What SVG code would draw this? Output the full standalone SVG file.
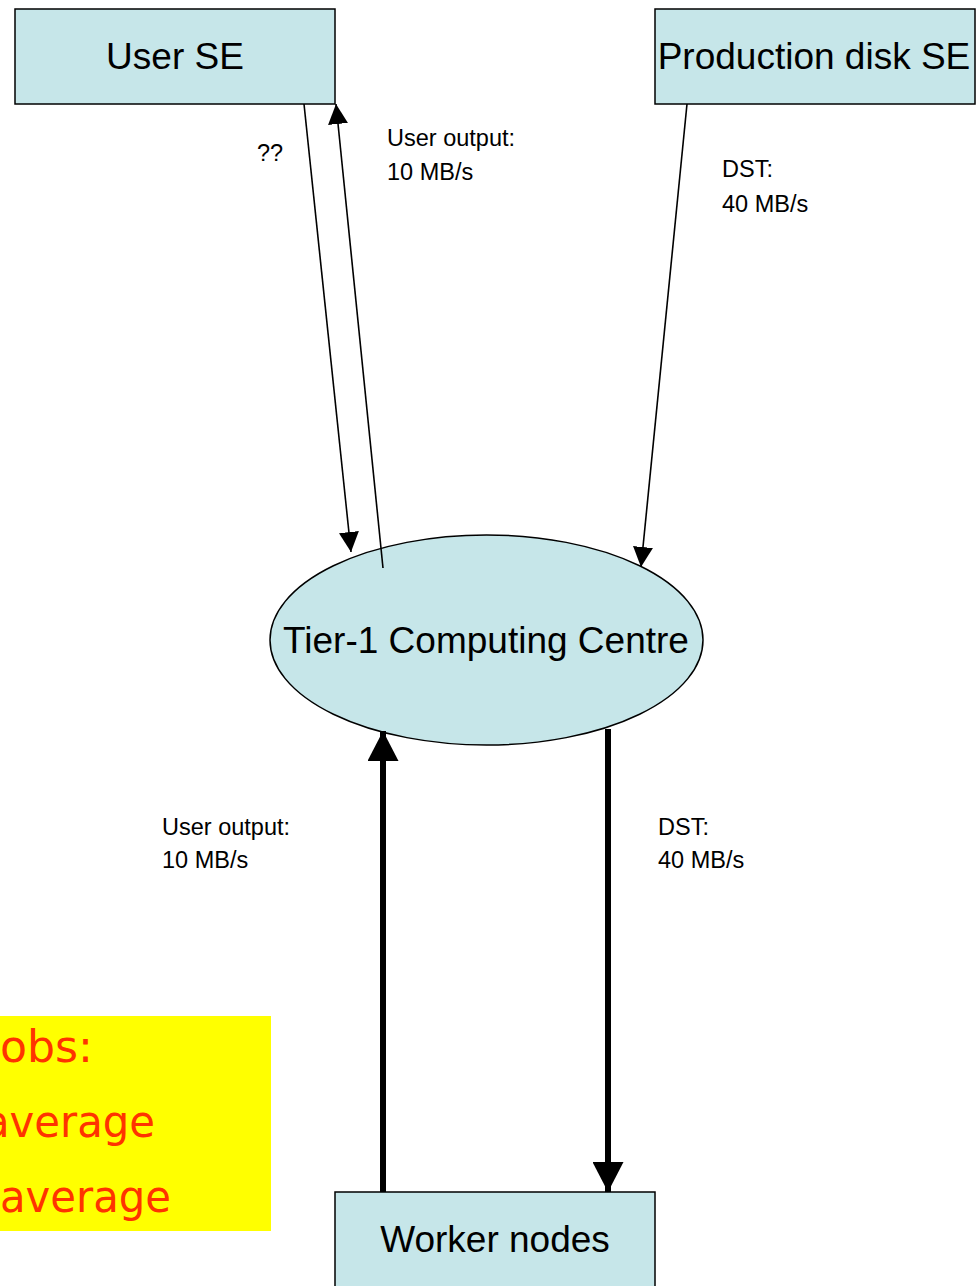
<svg xmlns="http://www.w3.org/2000/svg" width="976" height="1286" viewBox="0 0 976 1286">
<style>
.node{fill:#C6E6E9;stroke:#000;stroke-width:1.5}
.big{font-family:"Liberation Sans",Arial,sans-serif;font-size:37px;fill:#000;text-anchor:middle}
.lbl{font-family:"Liberation Sans",Arial,sans-serif;font-size:23.5px;fill:#000}
.thin{stroke:#000;stroke-width:1.6;fill:none}
.thick{stroke:#000;stroke-width:6;fill:none}
.note{font-family:"DejaVu Sans Condensed","DejaVu Sans",sans-serif;font-stretch:condensed;font-size:45px;fill:#FF3300}
</style>
<defs>
<marker id="ah" markerUnits="userSpaceOnUse" markerWidth="20" markerHeight="20" refX="20" refY="10" orient="auto">
<path d="M0,0 L20,10 L0,20 z" fill="#000"/>
</marker>
<marker id="ahb" markerUnits="userSpaceOnUse" markerWidth="30" markerHeight="31" refX="30" refY="15.5" orient="auto">
<path d="M0,0 L30,15.5 L0,31 z" fill="#000"/>
</marker>
</defs>
<rect x="0" y="0" width="976" height="1286" fill="#fff"/>

<g id="note">
<rect x="0" y="1016" width="271" height="215" fill="#FFFF00"/>
<text class="note" x="0" y="1062" textLength="93" lengthAdjust="spacingAndGlyphs">obs:</text>
<text class="note" x="-16" y="1137" textLength="171" lengthAdjust="spacingAndGlyphs">average</text>
<text class="note" x="0" y="1212" textLength="171" lengthAdjust="spacingAndGlyphs">average</text>
</g>

<g id="user-se">
<rect class="node" x="15" y="9" width="320" height="95"/>
<text class="big" x="175" y="69">User SE</text>
</g>

<g id="production-disk-se">
<rect class="node" x="655" y="9" width="320" height="95"/>
<text class="big" x="814" y="69">Production disk SE</text>
</g>

<g id="tier1">
<ellipse class="node" cx="486.5" cy="640" rx="216.5" ry="105"/>
<text class="big" x="486" y="653">Tier-1 Computing Centre</text>
</g>

<g id="worker-nodes">
<rect class="node" x="335" y="1192" width="320" height="100"/>
<text class="big" x="495" y="1252">Worker nodes</text>
</g>

<g id="connectors">
<line class="thin" x1="304" y1="104" x2="351" y2="552" marker-end="url(#ah)"/>
<line class="thin" x1="383" y1="568" x2="336" y2="104" marker-end="url(#ah)"/>
<line class="thin" x1="687" y1="104" x2="641" y2="567" marker-end="url(#ah)"/>
<line class="thick" x1="383" y1="1192" x2="383" y2="731" marker-end="url(#ahb)"/>
<line class="thick" x1="608" y1="729" x2="608" y2="1192" marker-end="url(#ahb)"/>
</g>

<g id="labels">
<text class="lbl" x="257" y="161">??</text>
<text class="lbl" x="387" y="146">User output:</text>
<text class="lbl" x="387" y="180">10 MB/s</text>
<text class="lbl" x="722" y="177">DST:</text>
<text class="lbl" x="722" y="212">40 MB/s</text>
<text class="lbl" x="162" y="835">User output:</text>
<text class="lbl" x="162" y="868">10 MB/s</text>
<text class="lbl" x="658" y="835">DST:</text>
<text class="lbl" x="658" y="868">40 MB/s</text>
</g>
</svg>
